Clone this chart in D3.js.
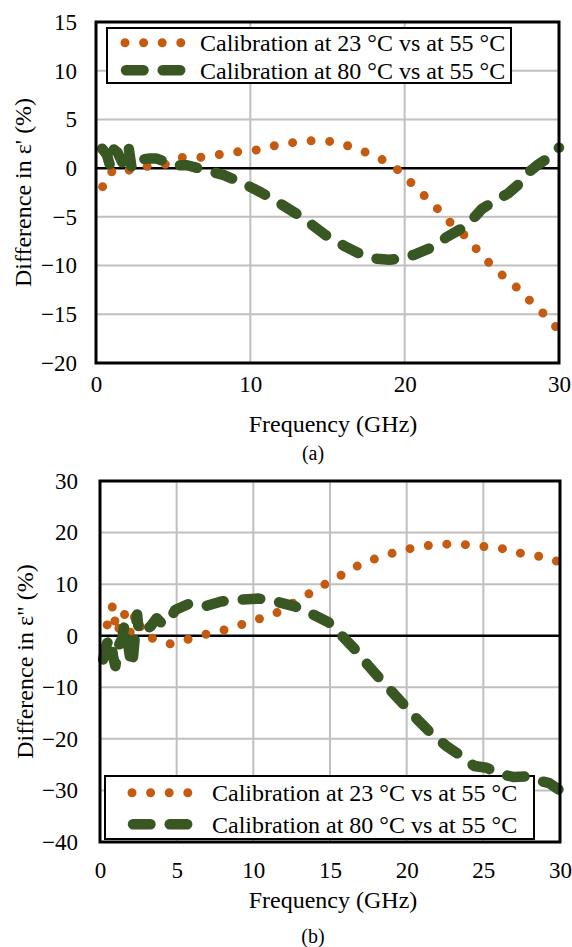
<!DOCTYPE html>
<html>
<head>
<meta charset="utf-8">
<script src="https://cdn.jsdelivr.net/npm/d3@7"></script>
<style>
  body { margin: 0; background: #fff; }
  svg { display: block; font-family: "Liberation Serif", "DejaVu Serif", serif; }
</style>
</head>
<body>
<svg id="chart" width="572" height="947"></svg>
<script>
// Series labels
const seriesNames = ['Calibration at 23 °C vs at 55 °C', 'Calibration at 80 °C vs at 55 °C'];

// (a) difference in real part, [frequency GHz, %]
const epsReal23 = [
  [0.43, -1.9], [0.78, -0.5], [1.23, -0.25], [1.75, -0.5], [2.3, -0.1], [3.0, 0.2],
  [4.25, 0.2], [5.4, 1.1], [6.7, 1.1], [8.0, 1.4], [9.3, 1.7], [10.6, 1.9], [11.8, 2.4],
  [13.1, 2.7], [14.35, 2.85], [15.5, 2.7], [16.7, 2.1], [18.0, 1.3], [19.2, 0.35],
  [20.1, -1.0], [21.05, -2.5], [21.95, -3.85], [22.75, -5.3], [23.7, -6.6], [24.4, -7.8],
  [25.1, -9.2], [25.9, -10.3], [26.7, -11.6], [27.4, -12.4], [28.35, -14.0], [29.05, -15.0],
  [29.6, -15.9], [30, -16.7],
];
const epsReal80 = [
  [0.4, 2.0], [0.7, 1.4], [0.9, 0.3], [1.1, 2.0], [1.4, 1.6], [1.7, 0.6], [1.9, 1.8],
  [2.1, 2.3], [2.3, 0.1], [2.6, 1.0], [3.0, 0.9], [3.5, 1.0], [3.9, 1.0], [4.6, 0.6],
  [5.2, 0.3], [5.9, 0.3], [7.1, -0.2], [8.25, -0.7], [9.4, -1.45], [10.7, -2.5],
  [11.8, -3.5], [13.0, -4.7], [13.9, -5.7], [14.9, -6.9], [16.1, -8.0], [17.1, -8.8],
  [18.2, -9.3], [19.0, -9.4], [19.6, -9.3], [20.6, -8.9], [21.8, -8.1], [22.7, -7.1],
  [23.8, -6.1], [24.6, -4.9], [25.0, -4.2], [25.9, -3.3], [26.7, -2.6], [27.5, -1.5],
  [27.8, -0.7], [28.6, 0.3], [29.35, 1.1], [30, 2.1],
];

// (b) difference in imaginary part, [frequency GHz, %]
const epsImag23 = [
  [0.47, 2.1], [0.84, 6.0], [0.97, 2.9], [1.12, 0.4], [1.56, 4.5], [2.0, 0.4], [2.3, 4.4],
  [2.86, 0], [3.7, -0.75], [4.6, -1.6], [5.45, -1.0], [6.4, 0], [7.5, 0.6], [8.55, 1.5],
  [9.8, 2.7], [10.85, 3.75], [11.9, 4.85], [12.9, 7.0], [14.0, 8.7], [15.05, 10.7],
  [16.2, 12.45], [17.1, 14.1], [18.3, 15.25], [19.6, 16.5], [20.9, 17.3], [22.1, 17.75],
  [23.3, 17.75], [24.4, 17.55], [25.5, 17.1], [26.5, 16.8], [27.65, 15.8], [28.75, 15.35],
  [29.6, 14.85], [30, 13.9],
];
const epsImag80 = [
  [0.2, -4.6], [0.45, -1.5], [0.7, -0.5], [0.85, -4.0], [1.0, -5.9], [1.2, -2.0],
  [1.45, -0.5], [1.6, 2.3], [1.8, -1.0], [2.0, -5.0], [2.1, -5.9], [2.25, -1.0],
  [2.42, 4.1], [2.55, 0.5], [3.0, 1.2], [3.3, 1.8], [3.7, 3.4], [4.1, 2.2], [4.5, 2.8],
  [4.9, 5.0], [5.8, 6.2], [6.85, 5.7], [7.9, 6.65], [9.25, 7.0], [10.35, 7.2], [11.65, 6.5],
  [12.7, 5.7], [13.9, 4.1], [14.9, 2.6], [15.8, -0.1], [16.65, -2.7], [17.5, -5.8],
  [18.3, -8.5], [19.3, -11.7], [20.1, -14.3], [20.8, -16.55], [21.65, -19.1], [22.6, -21.4],
  [23.55, -23.3], [24.4, -25.25], [25.2, -25.6], [26.05, -26.8], [27.0, -27.4], [27.7, -27.3],
  [28.5, -28.0], [29.3, -28.6], [30, -30.0],
];

// Tick values
const xTicksA = [0, 10, 20, 30];
const yTicksA = [15, 10, 5, 0, -5, -10, -15, -20];
const xTicksB = [0, 5, 10, 15, 20, 25, 30];
const yTicksB = [30, 20, 10, 0, -10, -20, -30, -40];

const ORANGE = '#c55a11';
const GREEN = '#385723';
const TICK_FONT = 23;
const LEGEND_FONT = 24;
const TITLE_FONT = 24;

const svg = d3.select('#chart');

const panels = [
  {
    box: { left: 96, right: 559, top: 22, bottom: 363 },
    xTicks: xTicksA, yTicks: yTicksA,
    series: [epsReal23, epsReal80],
    yLabel: "Difference in ε' (%)",
    caption: '(a)',
    xPad: 13, yPad: 19, titleY: 432, titleX: 31, captionY: 460,
    legend: { x: 107, y: 28, w: 404, h: 55, mark: 121, text: 200 },
  },
  {
    box: { left: 100, right: 560, top: 481, bottom: 842 },
    xTicks: xTicksB, yTicks: yTicksB,
    series: [epsImag23, epsImag80],
    yLabel: 'Difference in ε" (%)',
    caption: '(b)',
    xPad: 20, yPad: 22, titleY: 908, titleX: 33, captionY: 943,
    legend: { x: 105, y: 776, w: 429, h: 63, mark: 128, text: 212 },
  },
];

function styleSeries(sel, i) {
  if (i === 0) {
    sel.attr('stroke', ORANGE).attr('stroke-width', 9)
      .attr('stroke-dasharray', '0 18.6');
  } else {
    sel.attr('stroke', GREEN).attr('stroke-width', 10.5)
      .attr('stroke-dasharray', '17.5 19.2');
  }
  sel.attr('fill', 'none').attr('stroke-linecap', 'round').attr('stroke-linejoin', 'round');
}

panels.forEach((p) => {
  const g = svg.append('g');
  const xScale = d3.scaleLinear().domain([0, 30]).range([p.box.left, p.box.right]);
  const yScale = d3.scaleLinear()
    .domain([d3.min(p.yTicks), d3.max(p.yTicks)])
    .range([p.box.bottom, p.box.top]);

  // Gridlines
  g.append('g').selectAll('line')
    .data(p.xTicks.slice(1, -1))
    .join('line')
    .attr('x1', d => xScale(d)).attr('x2', d => xScale(d))
    .attr('y1', p.box.top).attr('y2', p.box.bottom)
    .attr('stroke', '#bfbfbf').attr('stroke-width', 2);
  g.append('g').selectAll('line')
    .data(p.yTicks.slice(1, -1).filter(d => d !== 0))
    .join('line')
    .attr('x1', p.box.left).attr('x2', p.box.right)
    .attr('y1', d => yScale(d)).attr('y2', d => yScale(d))
    .attr('stroke', '#bfbfbf').attr('stroke-width', 2);

  // Axes (labels only, no tick marks)
  const bottomAxis = d3.axisBottom(xScale).tickValues(p.xTicks).tickSize(0).tickPadding(p.xPad);
  const ax = g.append('g')
    .attr('transform', `translate(0,${p.box.bottom})`)
    .call(bottomAxis);
  const leftAxis = d3.axisLeft(yScale).tickValues(p.yTicks).tickSize(0).tickPadding(p.yPad);
  const ay = g.append('g')
    .attr('transform', `translate(${p.box.left},0)`)
    .call(leftAxis);
  [ax, ay].forEach((a) => {
    a.attr('font-family', null).attr('font-size', null);
    a.select('.domain').remove();
    a.selectAll('text').attr('font-size', TICK_FONT).attr('fill', '#000');
  });

  // Zero line
  g.append('line')
    .attr('x1', p.box.left).attr('x2', p.box.right)
    .attr('y1', yScale(0)).attr('y2', yScale(0))
    .attr('stroke', '#000').attr('stroke-width', 2.5);

  // Legend
  const L = p.legend;
  const lg = g.append('g');
  lg.append('rect')
    .attr('x', L.x).attr('y', L.y).attr('width', L.w).attr('height', L.h)
    .attr('fill', '#fff').attr('stroke', '#000').attr('stroke-width', 2);
  const rowH = L.h / 2;
  seriesNames.forEach((name, i) => {
    const cy = L.y + rowH * (i + 0.5) + 1;
    const x0 = i === 0 ? L.mark + 4 : L.mark + 5;
    const x1 = i === 0 ? x0 + 18.6 * 3 + 0.1 : x0 + 17.5 * 2 + 19.2;
    lg.append('line')
      .attr('x1', x0).attr('x2', x1).attr('y1', cy).attr('y2', cy)
      .call(styleSeries, i);
    lg.append('text')
      .attr('x', L.text).attr('y', cy)
      .attr('dy', '0.35em')
      .attr('font-size', LEGEND_FONT)
      .text(name);
  });

  // Series
  const line = d3.line().x(d => xScale(d[0])).y(d => yScale(d[1]));
  const clipId = `clip-${p.caption.replace(/\W/g, '')}`;
  g.append('clipPath').attr('id', clipId)
    .append('rect')
    .attr('x', p.box.left - 6).attr('y', p.box.top - 6)
    .attr('width', p.box.right - p.box.left + 12)
    .attr('height', p.box.bottom - p.box.top + 12);
  p.series.forEach((s, i) => {
    g.append('path')
      .datum(s)
      .attr('d', line)
      .attr('clip-path', `url(#${clipId})`)
      .call(styleSeries, i);
  });

  // Frame
  g.append('rect')
    .attr('x', p.box.left).attr('y', p.box.top)
    .attr('width', p.box.right - p.box.left).attr('height', p.box.bottom - p.box.top)
    .attr('fill', 'none').attr('stroke', '#000').attr('stroke-width', 3);

  // Axis titles
  g.append('text')
    .attr('x', 333)
    .attr('y', p.titleY)
    .attr('text-anchor', 'middle')
    .attr('font-size', TITLE_FONT)
    .text('Frequency (GHz)');
  g.append('text')
    .attr('transform', `translate(${p.titleX},${(p.box.top + p.box.bottom) / 2}) rotate(-90)`)
    .attr('text-anchor', 'middle')
    .attr('font-size', TITLE_FONT)
    .text(p.yLabel);
  g.append('text')
    .attr('x', 313)
    .attr('y', p.captionY)
    .attr('text-anchor', 'middle')
    .attr('font-size', 20)
    .text(p.caption);
});
</script>
</body>
</html>
